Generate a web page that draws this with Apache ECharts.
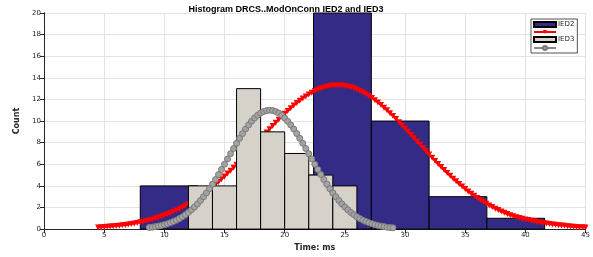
<!DOCTYPE html>
<html>
<head>
<meta charset="utf-8">
<script src="https://cdn.jsdelivr.net/npm/echarts@6.0.0/dist/echarts.min.js"></script>
<style>
  html, body { margin: 0; padding: 0; background: #fff; }
  #chart { width: 593px; height: 257px; }
</style>
</head>
<body>
<div id="chart"></div>
<script>
// histogram bins (ms) and counts
const ied2Edges = [8, 12.8, 17.6, 22.4, 27.2, 32.0, 36.8, 41.6]
const ied2Counts = [4, 3, 5, 20, 10, 3, 1]
const ied3Edges = [12, 14, 16, 18, 20, 22, 24, 26]
const ied3Counts = [4, 4, 13, 9, 7, 5, 4]

const ied2FitStart = 4.5
const ied2FitStep = 0.25
const ied2Fit = [
  0.15, 0.17, 0.19, 0.21, 0.23, 0.26, 0.28, 0.32, 0.35, 0.39,
  0.43, 0.47, 0.52, 0.57, 0.63, 0.69, 0.75, 0.82, 0.9, 0.98,
  1.07, 1.16, 1.26, 1.37, 1.48, 1.6, 1.73, 1.86, 2.01, 2.16,
  2.32, 2.48, 2.66, 2.85, 3.04, 3.24, 3.45, 3.67, 3.89, 4.12,
  4.37, 4.62, 4.87, 5.14, 5.41, 5.68, 5.96, 6.25, 6.55, 6.84,
  7.14, 7.44, 7.74, 8.05, 8.35, 8.65, 8.95, 9.25, 9.55, 9.84,
  10.13, 10.4, 10.67, 10.94, 11.19, 11.43, 11.66, 11.88, 12.09, 12.28,
  12.46, 12.62, 12.77, 12.89, 13.01, 13.1, 13.18, 13.24, 13.28, 13.3,
  13.3, 13.28, 13.25, 13.19, 13.12, 13.03, 12.92, 12.79, 12.65, 12.49,
  12.32, 12.13, 11.92, 11.71, 11.48, 11.24, 10.99, 10.73, 10.46, 10.18,
  9.9, 9.61, 9.31, 9.01, 8.71, 8.41, 8.11, 7.8, 7.5, 7.2,
  6.9, 6.6, 6.31, 6.02, 5.74, 5.46, 5.19, 4.93, 4.67, 4.42,
  4.17, 3.94, 3.71, 3.49, 3.28, 3.08, 2.88, 2.7, 2.52, 2.35,
  2.19, 2.04, 1.89, 1.76, 1.63, 1.51, 1.39, 1.28, 1.18, 1.09,
  1.02, 0.96, 0.9, 0.84, 0.78, 0.72, 0.66, 0.61, 0.56, 0.51,
  0.47, 0.43, 0.4, 0.36, 0.33, 0.3, 0.27, 0.25, 0.22, 0.2,
  0.18, 0.17, 0.15
]
const ied3FitStart = 8.75
const ied3FitStep = 0.25
const ied3Fit = [
  0.15, 0.18, 0.23, 0.28, 0.34, 0.41, 0.49, 0.59, 0.7, 0.83,
  0.97, 1.14, 1.33, 1.54, 1.78, 2.04, 2.33, 2.65, 2.99, 3.35,
  3.74, 4.16, 4.59, 5.05, 5.52, 6.0, 6.49, 6.98, 7.46, 7.94,
  8.4, 8.84, 9.26, 9.64, 9.98, 10.28, 10.54, 10.74, 10.88, 10.97,
  11.0,
  10.97, 10.88, 10.74, 10.54, 10.28, 9.98, 9.64, 9.26, 8.84, 8.4,
  7.94, 7.46, 6.98, 6.49, 6.0, 5.52, 5.05, 4.59, 4.16, 3.74,
  3.35, 2.99, 2.65, 2.33, 2.04, 1.78, 1.54, 1.33, 1.14, 0.97,
  0.83, 0.7, 0.59, 0.49, 0.41, 0.34, 0.28, 0.23, 0.18, 0.15,
  0.12
]

const xTicks = [0, 5, 10, 15, 20, 25, 30, 35, 40, 45]
const yTicks = [0, 2, 4, 6, 8, 10, 12, 14, 16, 18, 20]

const IED2_COLOR = '#332b86'
const IED3_COLOR = '#d6d2ca'
const TEXT = '#262626'

const binData = (edges, counts) => counts.map((c, i) => [edges[i], edges[i + 1], c])
const curveData = (start, step, vals) => vals.map((v, i) => [start + i * step, v])

const histRender = (fill) => (params, api) => {
  const p0 = api.coord([api.value(0), 0])
  const p1 = api.coord([api.value(1), api.value(2)])
  return {
    type: 'rect',
    shape: { x: p0[0], y: p1[1], width: p1[0] - p0[0], height: p0[1] - p1[1] },
    style: { fill: fill, stroke: '#000', lineWidth: 1 }
  }
}

const chart = echarts.init(document.getElementById('chart'))

const axisLine = { show: true, lineStyle: { color: TEXT, width: 1 } }
const gridLine = { color: '#e3e3e3', width: 1 }

chart.setOption({
  animation: false,
  title: {
    text: 'Histogram DRCS..ModOnConn IED2 and IED3',
    left: 281,
    textAlign: 'center',
    top: 0,
    textStyle: { fontSize: 9, fontWeight: 'bold', color: '#000', fontFamily: 'Liberation Sans' }
  },
  legend: {
    left: 531,
    top: 19,
    orient: 'vertical',
    itemWidth: 22,
    itemHeight: 5,
    itemGap: 2,
    padding: [2, 3, 2, 2],
    backgroundColor: '#fff',
    borderColor: TEXT,
    borderWidth: 0.8,
    textStyle: { fontSize: 7, lineHeight: 6, color: TEXT, fontFamily: 'DejaVu Sans', padding: [0, 0, 0, -3] },
    formatter: name => (name.indexOf('fit') >= 0 ? '' : name),
    data: [
      { name: 'IED2', icon: 'rect' },
      { name: 'IED2 fit' },
      { name: 'IED3', icon: 'rect' },
      { name: 'IED3 fit' }
    ]
  },
  grid: { left: 44, right: 3, top: 13, bottom: 18.5 },
  xAxis: [
    {
      type: 'value', min: 0, max: 45, interval: 5,
      name: 'Time: ms', nameLocation: 'middle', nameGap: 14,
      nameTextStyle: { fontSize: 8, fontWeight: 'bold', color: TEXT, fontFamily: 'DejaVu Sans' },
      axisLine: axisLine,
      axisTick: { show: true, inside: true, length: 4, lineStyle: { color: TEXT } },
      axisLabel: { fontSize: 7, color: TEXT, margin: 3, fontFamily: 'DejaVu Sans',
        formatter: v => (xTicks.indexOf(v) >= 0 ? String(v) : '') },
      splitLine: { show: true, lineStyle: gridLine }
    },
    {
      type: 'value', min: 0, max: 45, interval: 5, position: 'top',
      axisLine: axisLine,
      axisTick: { show: true, inside: true, length: 4, lineStyle: { color: TEXT } },
      axisLabel: { show: false },
      splitLine: { show: false }
    }
  ],
  yAxis: [
    {
      type: 'value', min: 0, max: 20, interval: 2,
      name: 'Count', nameLocation: 'middle', nameGap: 20, nameRotate: 90,
      nameTextStyle: { fontSize: 8, fontWeight: 'bold', color: TEXT, fontFamily: 'DejaVu Sans' },
      axisLine: axisLine,
      axisTick: { show: true, inside: false, length: 4, lineStyle: { color: TEXT } },
      axisLabel: { fontSize: 7, color: TEXT, margin: 3, fontFamily: 'DejaVu Sans',
        formatter: v => (yTicks.indexOf(v) >= 0 ? String(v) : '') },
      splitLine: { show: true, lineStyle: gridLine }
    },
    {
      type: 'value', min: 0, max: 20, interval: 2, position: 'right',
      axisLine: axisLine,
      axisTick: { show: true, inside: true, length: 4, lineStyle: { color: TEXT } },
      axisLabel: { show: false },
      splitLine: { show: false }
    }
  ],
  series: [
    {
      name: 'IED2',
      type: 'custom',
      z: 1,
      renderItem: histRender(IED2_COLOR),
      itemStyle: { color: IED2_COLOR, borderColor: '#000', borderWidth: 1 },
      encode: { x: [0, 1], y: 2 },
      data: binData(ied2Edges, ied2Counts)
    },
    {
      name: 'IED2 fit',
      type: 'line',
      z: 2,
      data: curveData(ied2FitStart, ied2FitStep, ied2Fit),
      symbol: 'triangle',
      symbolRotate: 180,
      symbolSize: 6,
      showAllSymbol: true,
      itemStyle: { color: '#ff0000' },
      lineStyle: { color: '#ff0000', width: 2 }
    },
    {
      name: 'IED3',
      type: 'custom',
      z: 3,
      renderItem: histRender(IED3_COLOR),
      itemStyle: { color: IED3_COLOR, borderColor: '#000', borderWidth: 1 },
      encode: { x: [0, 1], y: 2 },
      data: binData(ied3Edges, ied3Counts)
    },
    {
      name: 'IED3 fit',
      type: 'line',
      z: 4,
      data: curveData(ied3FitStart, ied3FitStep, ied3Fit),
      symbol: 'circle',
      symbolSize: 6,
      showAllSymbol: true,
      itemStyle: { color: '#a3a3a3', borderColor: '#7a7a7a', borderWidth: 1 },
      lineStyle: { color: '#8a8a8a', width: 2 }
    }
  ]
})
</script>
</body>
</html>
